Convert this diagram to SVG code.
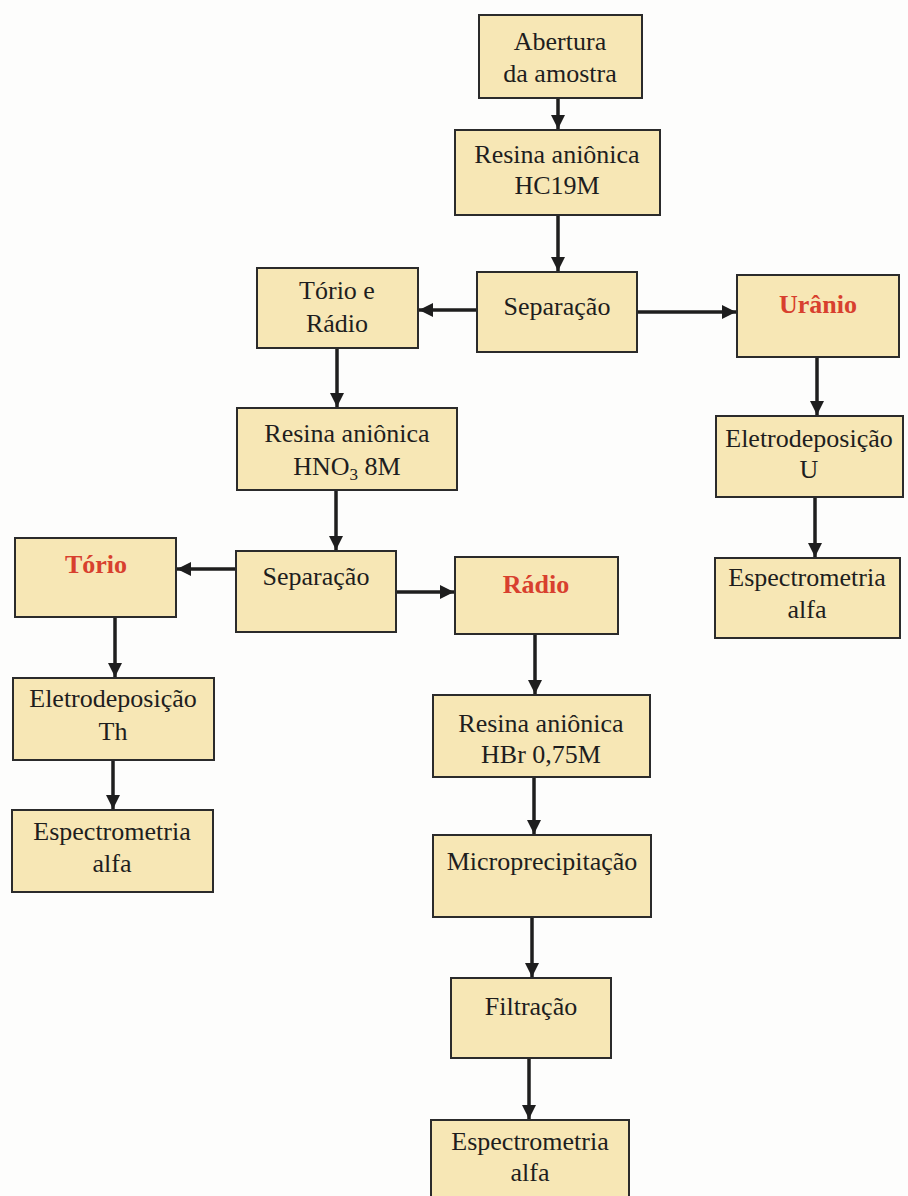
<svg xmlns="http://www.w3.org/2000/svg" width="908" height="1196" viewBox="0 0 908 1196">
  <style>
    .box { fill: #f7e7b5; stroke: #2b2b2b; stroke-width: 2; }
    .t { font-family: 'Liberation Serif', 'Times New Roman', 'DejaVu Serif', serif; font-size: 26px; fill: #1e1e1e; text-anchor: middle; }
    .r { fill: #d8402e; font-weight: bold; }
    .edge { stroke: #1e1e1e; stroke-width: 3.5; fill: none; marker-end: url(#ah); }
  </style>
  <defs>
    <marker id="ah" viewBox="0 0 10 10" refX="10" refY="5" markerUnits="userSpaceOnUse" markerWidth="14" markerHeight="14" orient="auto">
      <path d="M0,0 L10,5 L0,10 z" fill="#1e1e1e"/>
    </marker>
  </defs>
  <rect width="908" height="1196" fill="#fdfdfc"/>

  <!-- flow arrows -->
  <g id="connectors">
    <line class="edge" x1="558" y1="98" x2="558" y2="129"/>
    <line class="edge" x1="558" y1="215" x2="558" y2="271"/>
    <line class="edge" x1="477" y1="310" x2="419" y2="310"/>
    <line class="edge" x1="637" y1="312" x2="736" y2="312"/>
    <line class="edge" x1="817" y1="357" x2="817" y2="415"/>
    <line class="edge" x1="815" y1="497" x2="815" y2="557"/>
    <line class="edge" x1="337" y1="348" x2="337" y2="407"/>
    <line class="edge" x1="336" y1="490" x2="336" y2="550"/>
    <line class="edge" x1="236" y1="569" x2="177" y2="569"/>
    <line class="edge" x1="396" y1="592" x2="454" y2="592"/>
    <line class="edge" x1="115" y1="617" x2="115" y2="677"/>
    <line class="edge" x1="113" y1="760" x2="113" y2="809"/>
    <line class="edge" x1="535" y1="634" x2="535" y2="694"/>
    <line class="edge" x1="534" y1="777" x2="534" y2="834"/>
    <line class="edge" x1="532" y1="917" x2="532" y2="977"/>
    <line class="edge" x1="529" y1="1058" x2="529" y2="1119"/>
  </g>

  <g id="abertura">
    <rect class="box" x="479" y="15" width="163" height="83"/>
    <text class="t" x="560" y="50">Abertura</text>
    <text class="t" x="560" y="82">da amostra</text>
  </g>
  <g id="resina-hcl">
    <rect class="box" x="455" y="130" width="205" height="85"/>
    <text class="t" x="557" y="163">Resina aniônica</text>
    <text class="t" x="557" y="194">HC19M</text>
  </g>
  <g id="separacao-1">
    <rect class="box" x="477" y="272" width="160" height="80"/>
    <text class="t" x="557" y="315">Separação</text>
  </g>
  <g id="torio-radio">
    <rect class="box" x="257" y="268" width="161" height="80"/>
    <text class="t" x="337" y="299">Tório e</text>
    <text class="t" x="337" y="332">Rádio</text>
  </g>
  <g id="uranio">
    <rect class="box" x="737" y="275" width="162" height="82"/>
    <text class="t r" x="818" y="313">Urânio</text>
  </g>
  <g id="eletro-u">
    <rect class="box" x="716" y="416" width="187" height="81"/>
    <text class="t" x="809" y="447">Eletrodeposição</text>
    <text class="t" x="809" y="478">U</text>
  </g>
  <g id="espectro-u">
    <rect class="box" x="715" y="558" width="185" height="80"/>
    <text class="t" x="807" y="586">Espectrometria</text>
    <text class="t" x="807" y="618">alfa</text>
  </g>
  <g id="resina-hno3">
    <rect class="box" x="237" y="408" width="220" height="82"/>
    <text class="t" x="347" y="442">Resina aniônica</text>
    <text class="t" x="347" y="475">HNO<tspan font-size="17" dy="5">3</tspan><tspan dy="-5"> 8M</tspan></text>
  </g>
  <g id="separacao-2">
    <rect class="box" x="236" y="551" width="160" height="81"/>
    <text class="t" x="316" y="585">Separação</text>
  </g>
  <g id="torio">
    <rect class="box" x="15" y="538" width="161" height="79"/>
    <text class="t r" x="96" y="573">Tório</text>
  </g>
  <g id="radio">
    <rect class="box" x="455" y="557" width="163" height="77"/>
    <text class="t r" x="536" y="593">Rádio</text>
  </g>
  <g id="eletro-th">
    <rect class="box" x="13" y="678" width="201" height="82"/>
    <text class="t" x="113" y="707">Eletrodeposição</text>
    <text class="t" x="113" y="740">Th</text>
  </g>
  <g id="espectro-th">
    <rect class="box" x="12" y="810" width="201" height="82"/>
    <text class="t" x="112" y="840">Espectrometria</text>
    <text class="t" x="112" y="872">alfa</text>
  </g>
  <g id="resina-hbr">
    <rect class="box" x="433" y="695" width="217" height="82"/>
    <text class="t" x="541" y="732">Resina aniônica</text>
    <text class="t" x="541" y="763">HBr 0,75M</text>
  </g>
  <g id="microprecipitacao">
    <rect class="box" x="433" y="835" width="218" height="82"/>
    <text class="t" x="542" y="870">Microprecipitação</text>
  </g>
  <g id="filtracao">
    <rect class="box" x="451" y="978" width="160" height="80"/>
    <text class="t" x="531" y="1015">Filtração</text>
  </g>
  <g id="espectro-ra">
    <rect class="box" x="431" y="1120" width="198" height="82"/>
    <text class="t" x="530" y="1150">Espectrometria</text>
    <text class="t" x="530" y="1181">alfa</text>
  </g>
</svg>
